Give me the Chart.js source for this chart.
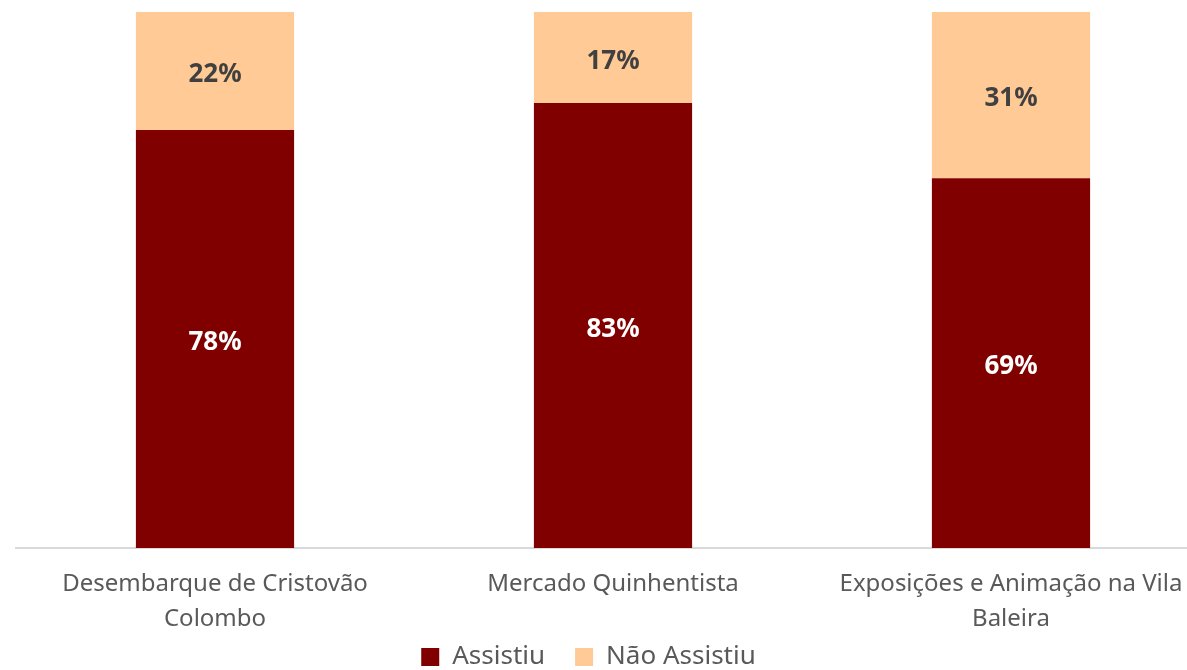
<html><head><meta charset="utf-8">
<script src="https://cdn.jsdelivr.net/npm/chart.js@4.4.0/dist/chart.umd.min.js"></script>
<style>
 html,body{margin:0;padding:0;background:#fff;overflow:hidden;}
 #wrap{position:relative;width:1210px;height:714px;}
</style>
</head>
<body>
<div id="wrap"><canvas id="myChart"></canvas></div>
<script>
var categories = [['Desembarque de Cristovão', 'Colombo'], 'Mercado Quinhentista', ['Exposições e Animação na Vila', 'Baleira']];
var assistiu = [78, 83, 69];
var naoAssistiu = [22, 17, 31];
var seriesNames = ['Assistiu', 'Não Assistiu'];

var VISIBLE_W = 1177;
var LEGEND_TOP = 614;

// draws the percentage inside each bar segment
var barLabels = {
  id: 'barLabels',
  afterDatasetsDraw: function(chart) {
    var ctx = chart.ctx;
    ctx.save();
    ctx.font = 'bold 26px "Noto Sans"';
    ctx.textAlign = 'center';
    ctx.textBaseline = 'middle';
    chart.data.datasets.forEach(function(ds, i) {
      var meta = chart.getDatasetMeta(i);
      ctx.fillStyle = i === 0 ? '#ffffff' : '#404040';
      meta.data.forEach(function(bar, j) {
        var mid = (bar.y + bar.base) / 2 + 4;
        ctx.fillText(ds.data[j] + '%', bar.x, mid);
      });
    });
    ctx.restore();
  }
};

// canvas is larger than the page; put the legend where it shows, centred
var legendPlace = {
  id: 'legendPlace',
  afterLayout: function(chart) {
    var lg = chart.legend;
    lg.left = 0; lg.right = VISIBLE_W; lg.width = VISIBLE_W;
    lg.top = LEGEND_TOP; lg.bottom = LEGEND_TOP + lg.height;
  }
};

var ctx = document.getElementById('myChart');
var myChart = new Chart(ctx, {
  type: 'bar',
  data: {
    labels: categories,
    datasets: [{
      label: seriesNames[0],
      backgroundColor: '#800000',
      data: assistiu
    }, {
      label: seriesNames[1],
      backgroundColor: '#FFCA96',
      data: naoAssistiu
    }]
  },
  plugins: [barLabels, legendPlace],
  options: {
    responsive: true,
    maintainAspectRatio: false,
    animation: false,
    layout: { padding: { left: 16, right: 0, top: 12, bottom: 0 } },
    datasets: { bar: { categoryPercentage: 1, barPercentage: 0.3975 } },
    plugins: {
      tooltip: { enabled: false },
      legend: {
        position: 'bottom',
        labels: {
          color: '#595959',
          font: { family: '"Noto Sans"', size: 26 },
          boxWidth: 18, boxHeight: 18,
          padding: 30
        }
      }
    },
    scales: {
      x: {
        stacked: true,
        grid: { display: false },
        border: { display: true, color: '#d9d9d9', width: 2 },
        ticks: {
          color: '#595959',
          font: { family: '"Noto Sans"', size: 24, lineHeight: 1.46 },
          maxRotation: 0, autoSkip: false, padding: 11
        }
      },
      y: {
        stacked: true,
        display: false,
        min: 0, max: 100
      }
    }
  }
});
</script>
</body></html>
